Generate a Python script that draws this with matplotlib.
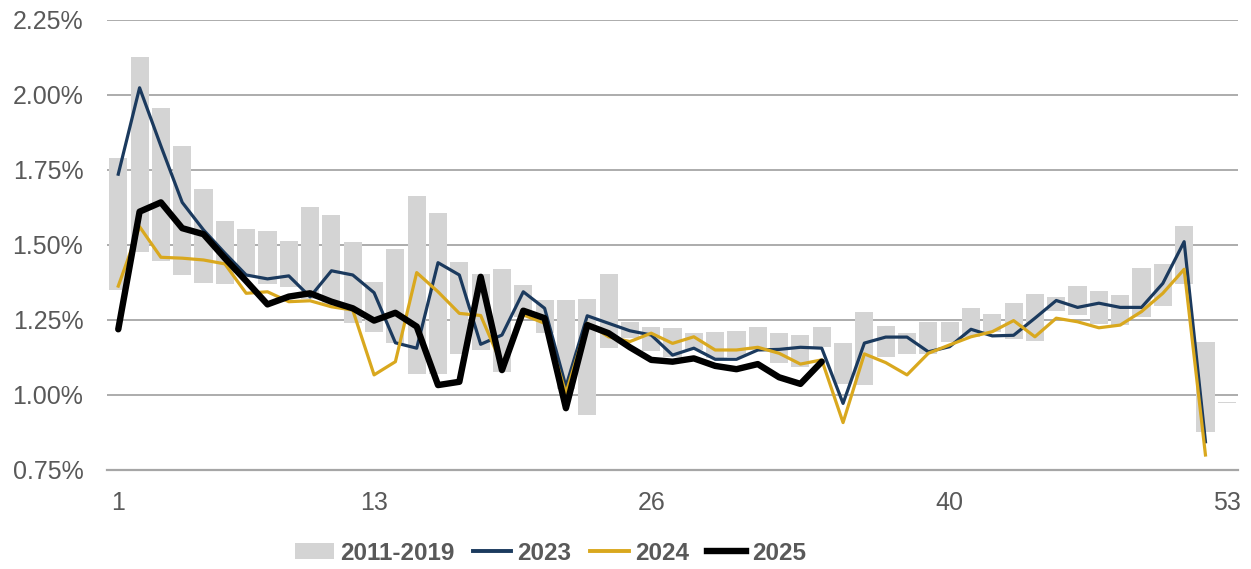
import numpy as np
import matplotlib
matplotlib.use('Agg')
import matplotlib.pyplot as plt
from matplotlib.patches import Patch
from matplotlib.lines import Line2D

# weekly share (%) - range of 2011-2019 and recent years
weeks = np.arange(1, 54)
range_top = [1.79, 2.127, 1.958, 1.83, 1.688, 1.581, 1.554, 1.547, 1.513, 1.628,
             1.60, 1.51, 1.377, 1.488, 1.663, 1.608, 1.444, 1.403, 1.42, 1.368,
             1.317, 1.317, 1.32, 1.403, 1.244, 1.227, 1.223, 1.207, 1.211, 1.214,
             1.228, 1.207, 1.20, 1.228, 1.172, 1.278, 1.231, 1.206, 1.244, 1.244,
             1.291, 1.269, 1.308, 1.337, 1.328, 1.363, 1.347, 1.333, 1.422, 1.436,
             1.564, 1.178, 0.978]
range_bottom = [1.35, 1.477, 1.447, 1.40, 1.373, 1.37, 1.40, 1.37, 1.36, 1.32,
                1.30, 1.241, 1.21, 1.173, 1.07, 1.07, 1.137, 1.15, 1.078, 1.26,
                1.207, 1.02, 0.933, 1.157, 1.19, 1.148, 1.127, 1.15, 1.123, 1.128,
                1.15, 1.108, 1.094, 1.16, 1.035, 1.033, 1.128, 1.138, 1.135, 1.178,
                1.192, 1.209, 1.186, 1.181, 1.28, 1.267, 1.235, 1.233, 1.261, 1.297,
                1.369, 0.878, 0.973]
y2023 = [1.736, 2.024, 1.83, 1.642, 1.55, 1.473, 1.40, 1.387, 1.397, 1.327,
         1.414, 1.40, 1.341, 1.174, 1.156, 1.441, 1.40, 1.169, 1.20, 1.344,
         1.289, 1.028, 1.264, 1.239, 1.214, 1.20, 1.133, 1.156, 1.119, 1.119,
         1.15, 1.152, 1.159, 1.156, 0.972, 1.173, 1.193, 1.193, 1.144, 1.161,
         1.219, 1.197, 1.199, 1.256, 1.315, 1.292, 1.306, 1.292, 1.292, 1.372,
         1.511, 0.844]
y2024 = [1.363, 1.561, 1.459, 1.456, 1.45, 1.437, 1.339, 1.344, 1.311, 1.314,
         1.294, 1.283, 1.067, 1.111, 1.408, 1.344, 1.272, 1.265, 1.10, 1.267,
         1.239, 1.006, 1.239, 1.194, 1.178, 1.206, 1.172, 1.194, 1.15, 1.15,
         1.159, 1.139, 1.103, 1.117, 0.908, 1.137, 1.108, 1.067, 1.139, 1.167,
         1.194, 1.211, 1.248, 1.194, 1.256, 1.244, 1.224, 1.233, 1.278, 1.339,
         1.419, 0.80]
y2025 = [1.219, 1.611, 1.642, 1.556, 1.536, 1.456, 1.38, 1.302, 1.328, 1.339,
         1.311, 1.289, 1.248, 1.274, 1.228, 1.033, 1.044, 1.394, 1.083, 1.281,
         1.256, 0.956, 1.233, 1.206, 1.159, 1.117, 1.111, 1.122, 1.097, 1.086,
         1.103, 1.059, 1.037, 1.111]
xticks = [1, 13, 26, 40, 53]
yticks = [0.75, 1.00, 1.25, 1.50, 1.75, 2.00, 2.25]

bar_col = '#d4d4d4'
navy = '#1b3a5e'
gold = '#d9a81e'
text_col = '#595959'

plt.rcParams['font.family'] = ['Liberation Sans', 'DejaVu Sans']

fig = plt.figure(figsize=(12.51, 5.69), dpi=100)
ax = fig.add_axes([0.0855, 0.174, 0.904, 0.7909])

top = np.array(range_top)
bot = np.array(range_bottom)
ax.bar(weeks, top - bot, bottom=bot, width=0.85, color=bar_col, zorder=2)

ax.plot(np.arange(1, len(y2023) + 1), y2023, color=navy, lw=2.3, zorder=3,
        solid_joinstyle='round')
ax.plot(np.arange(1, len(y2024) + 1), y2024, color=gold, lw=2.3, zorder=3,
        solid_joinstyle='round')
ax.plot(np.arange(1, len(y2025) + 1), y2025, color='black', lw=4.6, zorder=4,
        solid_joinstyle='round', solid_capstyle='round')

ax.set_xlim(0.47, 53.52)
ax.set_ylim(0.75, 2.25)
ax.set_yticks(yticks)
ax.set_yticklabels(['{:.2f}%'.format(v) for v in yticks])
ax.set_xticks(xticks)
ax.set_xticklabels([str(w) for w in xticks])
ax.grid(axis='y', color='#a6a6a6', lw=1.3, zorder=0)
ax.set_axisbelow(True)
for s in ['top', 'right', 'left']:
    ax.spines[s].set_visible(False)
ax.spines['bottom'].set_color('#a6a6a6')
ax.spines['bottom'].set_linewidth(1.6)
ax.tick_params(axis='both', length=0, labelsize=18, colors=text_col)
ax.tick_params(axis='y', pad=17)
ax.tick_params(axis='x', pad=15)

handles = [Patch(facecolor=bar_col, edgecolor='none'),
           Line2D([0], [0], color=navy, lw=2.8),
           Line2D([0], [0], color=gold, lw=2.8),
           Line2D([0], [0], color='black', lw=4.6)]
labels = ['2011-2019', '2023', '2024', '2025']
leg = fig.legend(handles, labels, loc='center', bbox_to_anchor=(0.44, 0.028),
                 ncol=4, frameon=False, handlelength=1.6, handleheight=0.6,
                 handletextpad=0.25, columnspacing=0.75,
                 prop={'weight': 'bold', 'size': 17.5})
for t in leg.get_texts():
    t.set_color(text_col)

fig.savefig('out.png', dpi=100)
